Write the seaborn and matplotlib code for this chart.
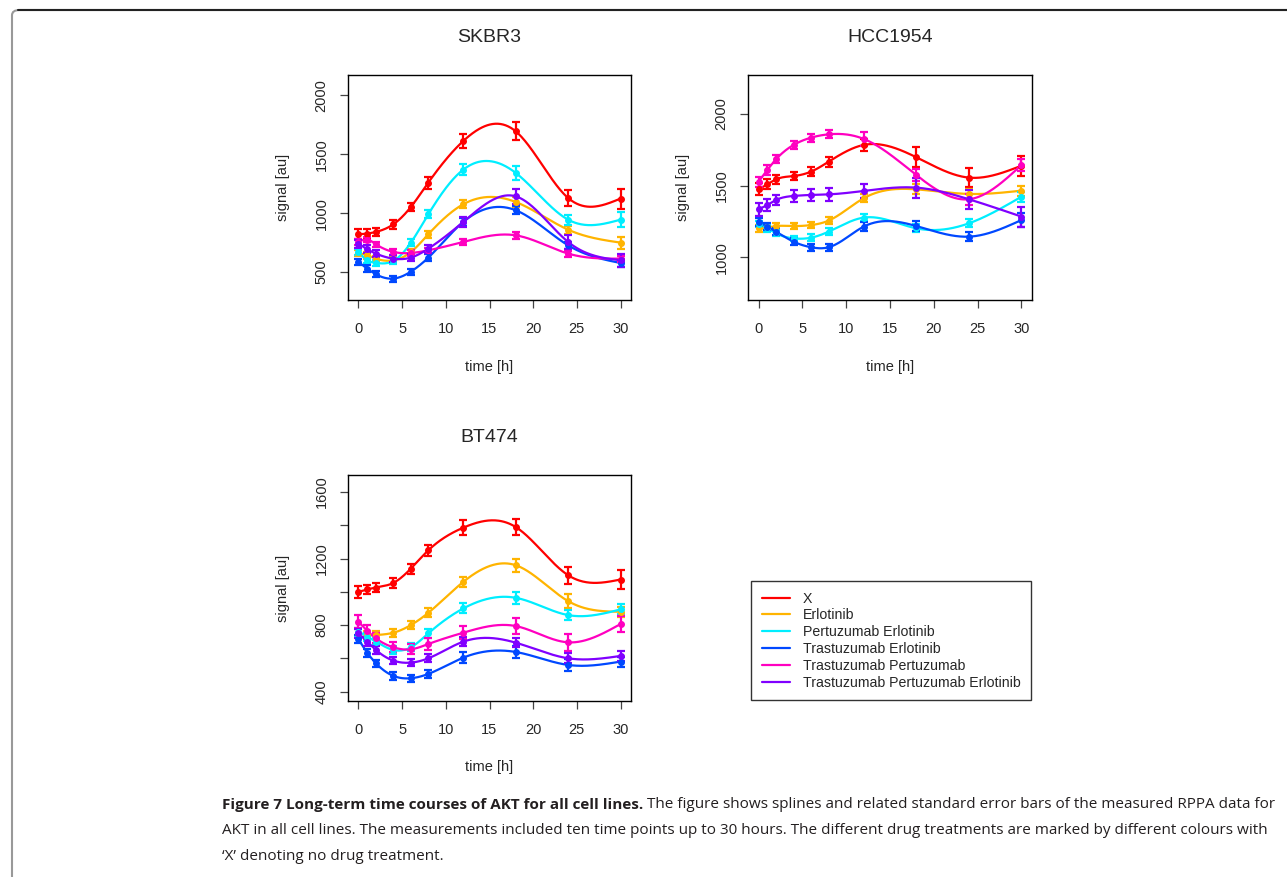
import numpy as np
import pandas as pd
import matplotlib
matplotlib.use("Agg")
import matplotlib.pyplot as plt
import seaborn as sns
from matplotlib.patches import FancyBboxPatch
from matplotlib.lines import Line2D

# measurement times (h) and treatments
TIME_H = [0, 1, 2, 4, 6, 8, 12, 18, 24, 30]
TREATMENTS = [
    "X",
    "Erlotinib",
    "Pertuzumab Erlotinib",
    "Trastuzumab Erlotinib",
    "Trastuzumab Pertuzumab",
    "Trastuzumab Pertuzumab Erlotinib",
]
COLOURS = ["#FF0000", "#FFB400", "#00EEFF", "#0048FF", "#FF00C0", "#8000FF"]

# mean signal per treatment (rows follow TREATMENTS)
SKBR3_MEAN = [
    [820, 826, 840, 905, 1052, 1259, 1612, 1694, 1128, 1123],
    [661, 642, 613, 599, 669, 820, 1075, 1094, 859, 749],
    [670, 600, 577, 594, 749, 990, 1369, 1341, 944, 944],
    [585, 528, 480, 444, 503, 622, 925, 1024, 726, 576],
    [755, 775, 735, 670, 661, 684, 755, 811, 656, 613],
    [740, 693, 656, 613, 622, 698, 925, 1142, 755, 599],
]
SKBR3_SE = [
    [42, 42, 34, 37, 37, 51, 57, 76, 71, 85],
    [28, 28, 25, 25, 28, 30, 35, 40, 35, 50],
    [28, 28, 28, 28, 30, 35, 50, 62, 42, 62],
    [28, 28, 25, 25, 25, 30, 35, 34, 30, 34],
    [23, 23, 23, 23, 23, 23, 25, 28, 25, 25],
    [35, 35, 30, 30, 30, 34, 42, 62, 57, 57],
]
HCC1954_MEAN = [
    [1474, 1509, 1544, 1567, 1598, 1667, 1784, 1698, 1556, 1639],
    [1202, 1209, 1218, 1218, 1225, 1256, 1412, 1474, 1442, 1465],
    [1232, 1202, 1167, 1132, 1137, 1179, 1277, 1202, 1237, 1423],
    [1249, 1214, 1179, 1109, 1070, 1070, 1214, 1218, 1144, 1260],
    [1528, 1609, 1684, 1784, 1835, 1858, 1826, 1574, 1405, 1644],
    [1335, 1365, 1400, 1428, 1435, 1439, 1463, 1486, 1405, 1284],
]
HCC1954_SE = [
    [42, 35, 30, 30, 30, 35, 42, 70, 65, 70],
    [23, 23, 20, 20, 20, 23, 28, 35, 35, 35],
    [23, 23, 20, 20, 23, 25, 25, 28, 28, 35],
    [28, 25, 23, 25, 25, 25, 30, 32, 32, 46],
    [35, 35, 28, 28, 28, 28, 46, 42, 40, 40],
    [46, 40, 35, 40, 42, 46, 50, 70, 65, 70],
]
BT474_MEAN = [
    [1000, 1014, 1026, 1054, 1140, 1250, 1386, 1390, 1100, 1074],
    [754, 740, 740, 754, 800, 874, 1060, 1160, 944, 880],
    [760, 730, 700, 650, 666, 750, 900, 964, 860, 894],
    [714, 634, 570, 494, 480, 506, 604, 638, 560, 580],
    [820, 766, 720, 666, 654, 686, 754, 794, 696, 806],
    [750, 700, 650, 586, 574, 600, 700, 694, 600, 614],
]
BT474_SE = [
    [36, 30, 28, 28, 30, 34, 44, 50, 50, 60],
    [24, 24, 22, 24, 24, 26, 30, 40, 40, 30],
    [24, 24, 22, 22, 24, 26, 30, 36, 30, 30],
    [24, 24, 22, 22, 22, 24, 34, 36, 36, 30],
    [40, 36, 30, 30, 30, 34, 40, 50, 50, 50],
    [26, 24, 22, 22, 22, 24, 26, 28, 30, 30],
]

W, H = 1287, 877


def fx(px):
    return px / W


def fy(py):
    return 1 - py / H


def natural_spline(x, y, n=300):
    """Natural cubic interpolating spline through the measured points"""
    x = np.asarray(x, float)
    y = np.asarray(y, float)
    k = len(x)
    h = np.diff(x)
    A = np.zeros((k, k))
    rhs = np.zeros(k)
    A[0, 0] = A[-1, -1] = 1
    for i in range(1, k - 1):
        A[i, i - 1] = h[i - 1]
        A[i, i] = 2 * (h[i - 1] + h[i])
        A[i, i + 1] = h[i]
        rhs[i] = 3 * ((y[i + 1] - y[i]) / h[i] - (y[i] - y[i - 1]) / h[i - 1])
    c = np.linalg.solve(A, rhs)
    b = (y[1:] - y[:-1]) / h - h * (2 * c[:-1] + c[1:]) / 3
    d = (c[1:] - c[:-1]) / (3 * h)
    xs = np.linspace(x[0], x[-1], n)
    idx = np.clip(np.searchsorted(x, xs, side="right") - 1, 0, k - 2)
    dx = xs - x[idx]
    ys = y[idx] + b[idx] * dx + c[idx] * dx ** 2 + d[idx] * dx ** 3
    return xs, ys


def draw_panel(ax, title, means, ses, ylim, yticks, ylabels):
    palette = dict(zip(TREATMENTS, COLOURS))
    for name, m, s in zip(TREATMENTS, means, ses):
        xs, ys = natural_spline(TIME_H, m)
        curve = pd.DataFrame({"time": xs, "signal": ys})
        sns.lineplot(data=curve, x="time", y="signal", color=palette[name],
                     lw=1.6, ax=ax, sort=False, estimator=None)
        ax.errorbar(TIME_H, m, yerr=s, fmt="o", color=palette[name], ms=4,
                    elinewidth=1.6, capsize=2.8, capthick=1.6)

    ax.set_xlim(-1.2, 31.2)
    ax.set_xticks(range(0, 31, 5))
    ax.set_ylim(*ylim)
    ax.set_yticks(yticks)
    ax.set_yticklabels(ylabels, rotation=90, va="center")
    for spine in ax.spines.values():
        spine.set_visible(True)
        spine.set_color("black")
        spine.set_linewidth(1.0)
    ax.tick_params(bottom=True, left=True, direction="out", length=6,
                   width=0.9, color="#444444", labelsize=10.5)
    ax.tick_params(axis="x", pad=10)
    ax.tick_params(axis="y", pad=8)
    ax.set_xlabel("time [h]", fontsize=10.5)
    ax.set_ylabel("signal [au]", fontsize=10.5)
    ax.xaxis.set_label_coords(0.5, -67 / 225)
    ax.xaxis.label.set_va("center")
    ax.yaxis.set_label_coords(-65 / 283, 0.5)
    ax.yaxis.label.set_va("center")
    ax.text(0.5, 1 + 38 / 225, title, transform=ax.transAxes, ha="center",
            va="center", fontsize=14)


sns.set_theme(style="white")
plt.rcParams["font.family"] = ["Liberation Sans", "DejaVu Sans"]

fig = plt.figure(figsize=(W / 100, H / 100), dpi=100)

# outer frame of the figure box
frame = FancyBboxPatch((fx(12), fy(900)), fx(1400), fy(10) - fy(900),
                       boxstyle="round,pad=0,rounding_size=0.006",
                       transform=fig.transFigure, fill=False,
                       edgecolor="#999999", lw=1.5)
fig.patches.append(frame)
fig.add_artist(Line2D([fx(18), fx(1290)], [fy(10), fy(10)],
                      transform=fig.transFigure, color="#222222", lw=1.5))

ax_w, ax_h = fx(631) - fx(348), fy(75) - fy(300)
ax1 = fig.add_axes([fx(348), fy(300), ax_w, ax_h])
ax2 = fig.add_axes([fx(748), fy(300), fx(1032) - fx(748), ax_h])
ax3 = fig.add_axes([fx(348), fy(700.5), ax_w, ax_h])

draw_panel(ax1, "SKBR3", SKBR3_MEAN, SKBR3_SE, (262, 2172),
           [500, 1000, 1500, 2000], ["500", "1000", "1500", "2000"])
draw_panel(ax2, "HCC1954", HCC1954_MEAN, HCC1954_SE, (702, 2272),
           [1000, 1500, 2000], ["1000", "1500", "2000"])
draw_panel(ax3, "BT474", BT474_MEAN, BT474_SE, (346, 1700),
           [400, 600, 800, 1000, 1200, 1400, 1600],
           ["400", "", "800", "", "1200", "", "1600"])

handles = [Line2D([], [], color=c, lw=1.6) for c in COLOURS]
leg = fig.legend(handles, TREATMENTS, loc="upper left",
                 bbox_to_anchor=(fx(751), fy(581)), borderaxespad=0,
                 fontsize=10.2, frameon=True, fancybox=False,
                 edgecolor="black", handlelength=2.0, handletextpad=0.9,
                 labelspacing=0.2, borderpad=0.75)
leg.get_frame().set_linewidth(1.0)

# caption
cap_font = ["Open Sans", "DejaVu Sans"]
cap_size = 11
cap_colour = "#231F20"
bold = fig.text(fx(222), fy(805), "Figure 7 Long-term time courses of AKT for all cell lines.",
                fontsize=cap_size, fontweight="bold", family=cap_font,
                va="center", color=cap_colour)
ax1.annotate(" The figure shows splines and related standard error bars of the measured RPPA data for",
             xy=(1, 0.5), xycoords=bold, va="center", ha="left",
             fontsize=cap_size, family=cap_font, color=cap_colour,
             annotation_clip=False)
fig.text(fx(222), fy(830), "AKT in all cell lines. The measurements included ten time points up to 30 hours. "
         "The different drug treatments are marked by different colours with",
         fontsize=cap_size, family=cap_font, va="center", color=cap_colour)
fig.text(fx(222), fy(856), "\u2018X\u2019 denoting no drug treatment.",
         fontsize=cap_size, family=cap_font, va="center", color=cap_colour)

fig.savefig("out.png", dpi=100)
